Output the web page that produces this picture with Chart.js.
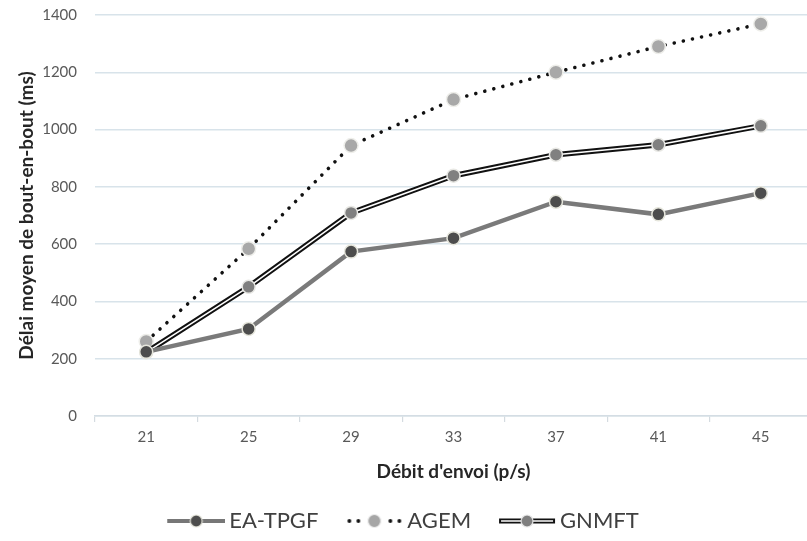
<!DOCTYPE html>
<html>
<head>
<meta charset="utf-8">
<script src="https://cdn.jsdelivr.net/npm/chart.js@4/dist/chart.umd.min.js"></script>
<style>
html,body{margin:0;padding:0;background:#fff;overflow:hidden;}
#wrap{width:807px;height:541px;position:relative;overflow:hidden;}
#c{position:absolute;left:-23px;top:0;}
</style>
</head>
<body>
<div id="wrap"><canvas id="c" width="850" height="541"></canvas></div>
<script>
const categories = ['21', '25', '29', '33', '37', '41', '45'];
const eaTpgf = [224, 304, 574, 621, 748, 704, 778];
const agem   = [260, 584, 944, 1105, 1200, 1290, 1369];
const gnmft  = [222, 451, 709, 839, 912, 947, 1013];
const yTicks = [0, 200, 400, 600, 800, 1000, 1200, 1400];
const seriesNames = ['EA-TPGF', 'AGEM', 'GNMFT'];
const xTitle = "Débit d'envoi (p/s)";
const yTitle = 'Délai moyen de bout-en-bout (ms)';

const FONT = "Lato, 'Open Sans', sans-serif";

// legend icons: 82px canvas, visible symbol occupies x 24..82
function legendIcon(kind) {
  const c = document.createElement('canvas');
  c.width = 82; c.height = 18;
  const g = c.getContext('2d');
  const y = 9, x0 = 24, x1 = 82, xm = 53;
  if (kind === 0) {
    g.strokeStyle = '#777'; g.lineWidth = 4;
    g.beginPath(); g.moveTo(x0, y); g.lineTo(x1, y); g.stroke();
    g.fillStyle = '#4d4d4d'; g.strokeStyle = '#e6e6dc'; g.lineWidth = 1.2;
    g.beginPath(); g.arc(xm, y, 6, 0, Math.PI * 2); g.fill(); g.stroke();
  } else if (kind === 1) {
    g.fillStyle = '#111';
    [x0 + 4, x0 + 13, x0 + 22, x1 - 22, x1 - 13, x1 - 4].forEach(x => {
      if (Math.abs(x - xm) > 8) { g.beginPath(); g.arc(x, y, 1.9, 0, Math.PI * 2); g.fill(); }
    });
    g.fillStyle = '#a6a6a6'; g.strokeStyle = '#eee'; g.lineWidth = 1.2;
    g.beginPath(); g.arc(xm, y, 6.5, 0, Math.PI * 2); g.fill(); g.stroke();
  } else {
    g.strokeStyle = '#111'; g.lineWidth = 5;
    g.beginPath(); g.moveTo(x0 + 1, y); g.lineTo(x1 - 1, y); g.stroke();
    g.strokeStyle = '#fff'; g.lineWidth = 1.5;
    g.beginPath(); g.moveTo(x0 + 3, y); g.lineTo(x1 - 3, y); g.stroke();
    g.fillStyle = '#7f7f7f'; g.strokeStyle = '#e8e8e8'; g.lineWidth = 1.2;
    g.beginPath(); g.arc(xm, y, 6, 0, Math.PI * 2); g.fill(); g.stroke();
  }
  return c;
}
const icons = [legendIcon(0), legendIcon(1), legendIcon(2)];

new Chart(document.getElementById('c'), {
  type: 'line',
  data: {
    labels: categories,
    datasets: [
      {
        label: seriesNames[0], data: eaTpgf, order: 0,
        borderColor: '#7a7a7a', borderWidth: 4.5,
        pointBackgroundColor: '#4d4d4d', pointBorderColor: '#e6e6dc',
        pointBorderWidth: 1.5, pointRadius: 6.5, tension: 0
      },
      {
        label: seriesNames[1], data: agem, order: 3,
        borderColor: '#111', borderWidth: 3.6, borderDash: [0.01, 9.3], borderCapStyle: 'round',
        pointBackgroundColor: '#a8a8a8', pointBorderColor: '#eeeeea',
        pointBorderWidth: 1.5, pointRadius: 7, tension: 0
      },
      {
        label: seriesNames[2], data: gnmft, order: 1,
        borderColor: '#ffffff', borderWidth: 1.6,
        pointBackgroundColor: '#808080', pointBorderColor: '#e8e8e4',
        pointBorderWidth: 1.5, pointRadius: 6.5, tension: 0
      },
      {
        label: '_outline', data: gnmft, order: 2,
        borderColor: '#111', borderWidth: 5.5,
        pointRadius: 0, tension: 0
      }
    ]
  },
  options: {
    responsive: false,
    animation: false,
    events: [],
    layout: { padding: { top: 15, right: 15, bottom: -1, left: 0 } },
    plugins: {
      tooltip: { enabled: false },
      legend: {
        position: 'bottom',
        labels: {
          usePointStyle: true,
          pointStyleWidth: 68,
          padding: 10,
          color: '#404040',
          font: { family: FONT, size: 22 },
          generateLabels: chart => seriesNames.map((n, i) => ({
            text: n, pointStyle: icons[i], datasetIndex: i,
            fillStyle: 'transparent', strokeStyle: 'transparent', lineWidth: 0,
            fontColor: '#404040', hidden: false
          }))
        }
      }
    },
    scales: {
      x: {
        offset: true,
        afterFit: s => { s.height = 84; },
        grid: {
          offset: true, drawOnChartArea: false, drawTicks: true,
          tickLength: 6, tickColor: '#d4dbe0', lineWidth: 1.2
        },
        border: { display: true, color: '#d4dde4', width: 1.5 },
        ticks: { color: '#595959', font: { family: FONT, size: 15 }, padding: 6 },
        title: {
          display: true, text: xTitle, color: '#262626',
          font: { family: FONT, size: 19, weight: 'bold' },
          padding: { top: 4, bottom: 17 }
        }
      },
      y: {
        min: 0, max: 1400,
        afterFit: s => { s.width = 118; },
        afterBuildTicks: s => { s.ticks = yTicks.map(v => ({ value: v })); },
        grid: { color: '#d8e3ea', lineWidth: 1.5, drawTicks: true, tickLength: 17, tickColor: 'rgba(0,0,0,0)' },
        border: { display: false },
        ticks: {
          color: '#595959', font: { family: FONT, size: 15 }, padding: 1,
          callback: v => String(v)
        },
        title: {
          display: true, text: yTitle, color: '#262626',
          font: { family: FONT, size: 19, weight: 'bold' },
          padding: { top: 38, bottom: 0 }
        }
      }
    }
  }
});
</script>
</body>
</html>
